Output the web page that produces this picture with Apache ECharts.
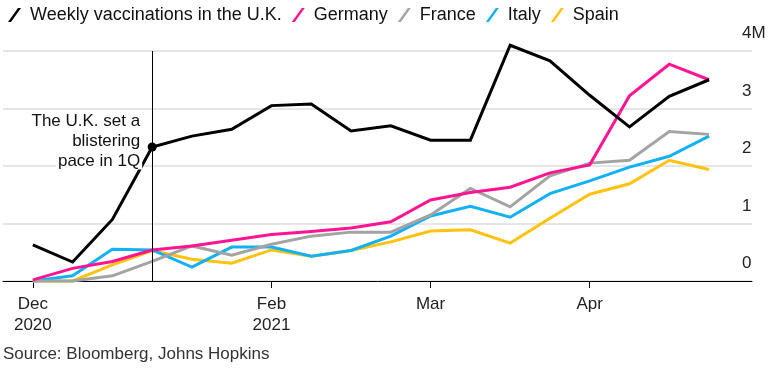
<!DOCTYPE html>
<html><head><meta charset="utf-8">
<script src="https://cdn.jsdelivr.net/npm/echarts@6/dist/echarts.min.js"></script>
<style>html,body{margin:0;padding:0;background:#fff}#c{width:780px;height:372px}</style>
</head><body><div id="c"></div>
<script>
const weekIndex = [0,1,2,3,4,5,6,7,8,9,10,11,12,13,14,15,16,17];
const uk      = [0.63,0.33,1.07,2.33,2.52,2.64,3.05,3.08,2.61,2.70,2.45,2.45,4.10,3.83,3.23,2.68,3.21,3.50];
const germany = [0.02,0.22,0.34,0.54,0.61,0.71,0.81,0.86,0.92,1.03,1.41,1.54,1.63,1.88,2.02,3.22,3.77,3.50];
const france  = [0.00,0.00,0.09,0.34,0.61,0.45,0.64,0.78,0.85,0.85,1.15,1.61,1.29,1.83,2.05,2.10,2.60,2.55];
const italy   = [0.00,0.09,0.55,0.54,0.24,0.59,0.59,0.43,0.53,0.78,1.13,1.30,1.11,1.52,1.74,1.98,2.17,2.52];
const spain   = [0.00,0.00,0.28,0.53,0.38,0.31,0.54,0.43,0.53,0.68,0.87,0.89,0.66,1.09,1.51,1.69,2.10,1.94];
const tickPositions = [0,6,10,14];
const tickLabels = ['Dec\n2020','Feb\n2021','Mar','Apr'];
const annotationIndex = 3;
const annotationText = ['The U.K. set a','blistering','pace in 1Q'];
const sourceText = 'Source: Bloomberg, Johns Hopkins';

const FONT = '"Liberation Sans", Arial, Helvetica, sans-serif';
const ICON = 'path://M0,14 L10,0 L13,0 L3,14 Z';
const colors = {
  'Weekly vaccinations in the U.K.':'#000000',
  'Germany':'#ff1493',
  'France':'#a3a3a3',
  'Italy':'#12b1f5',
  'Spain':'#ffc20e'
};
function pts(arr){ return weekIndex.map((x,i)=>[x, arr[i]]); }
function mk(name, arr, extra){
  return Object.assign({
    name, type:'line', data: pts(arr), showSymbol:false, symbol:'none', clip:false,
    lineStyle:{width:3, color:colors[name], join:'miter'}, itemStyle:{color:colors[name]},
    animation:false, emphasis:{disabled:true}
  }, extra||{});
}
const chart = echarts.init(document.getElementById('c'), null, {renderer:'canvas'});
chart.setOption({
  animation:false,
  textStyle:{fontFamily:FONT},
  grid:{left:3, right:28, top:51, bottom:91, containLabel:false},
  legend:{
    left:3, top:1, itemWidth:13, itemHeight:14, itemGap:10,
    selectedMode:false,
    textStyle:{fontSize:18, color:'#111', fontFamily:FONT, padding:[0,0,0,4]},
    data:Object.keys(colors).map(n=>({name:n, icon:ICON}))
  },
  xAxis:{
    type:'value', min:-0.75, max:18.08,
    axisLine:{show:true, onZero:false, lineStyle:{color:'#000', width:1}},
    axisTick:{show:true, customValues:tickPositions, length:7, lineStyle:{color:'#000', width:1}},
    axisLabel:{customValues:tickPositions, fontSize:17, lineHeight:21, margin:13, color:'#222', fontFamily:FONT,
      formatter:v=>{const i=tickPositions.indexOf(Math.round(v)); return i>=0?tickLabels[i]:'';}},
    splitLine:{show:false}
  },
  yAxis:{
    type:'value', position:'right', min:0, max:4, interval:1,
    axisLine:{show:false}, axisTick:{show:false},
    splitLine:{show:true, lineStyle:{color:'#dedede', width:1.5}},
    axisLabel:{margin:-10, align:'left', verticalAlign:'bottom', padding:[0,0,9,0], fontSize:17, color:'#222', fontFamily:FONT,
      formatter:v=> v===4 ? '4M' : String(v)}
  },
  series:[
    mk('Spain', spain),
    mk('Italy', italy),
    mk('France', france),
    mk('Germany', germany),
    mk('Weekly vaccinations in the U.K.', uk, {
      markLine:{silent:true, symbol:'none', animation:false, label:{show:false},
        lineStyle:{color:'#000', width:1, type:'solid'}, data:[{xAxis:annotationIndex}]},
      markPoint:{silent:true, animation:false, symbol:'circle', symbolSize:9, itemStyle:{color:'#000'},
        label:{show:false}, data:[{coord:[annotationIndex, uk[annotationIndex]]}]}
    })
  ]
});
const p = chart.convertToPixel({gridIndex:0}, [annotationIndex, uk[annotationIndex]]);
chart.setOption({
  graphic:[
    {type:'text', z:100, x:p[0]-10, y:p[1]-6,
      style:{text:annotationText.map(t=>'{a|'+t+'}').join('\n'), align:'right', verticalAlign:'middle',
        rich:{a:{fontSize:17, lineHeight:20, fill:'#111', fontFamily:FONT, backgroundColor:'#fff', padding:[0,2,0,2]}}}},
    {type:'text', left:3, top:346, style:{text:sourceText, fontSize:17, fill:'#333', fontFamily:FONT}}
  ]
});
</script></body></html>
